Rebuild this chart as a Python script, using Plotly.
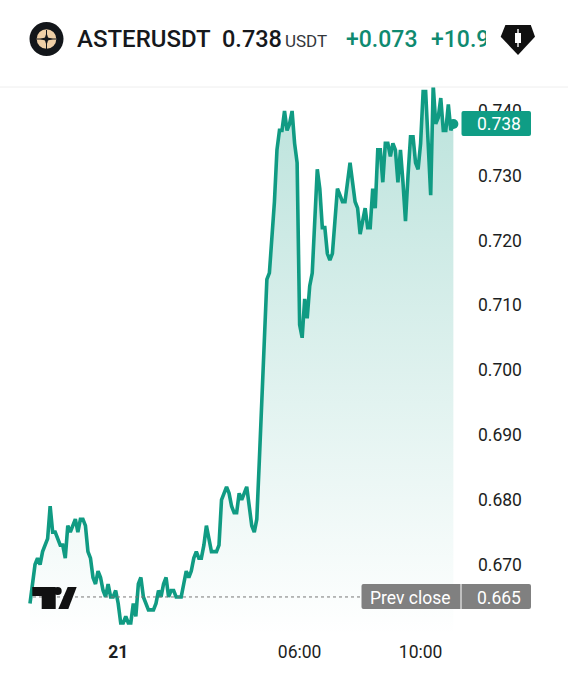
import pandas as pd
import plotly.graph_objects as go

symbol = "ASTERUSDT"
last_price = "0.738"
quote = "USDT"
change = "+0.073"
change_pct = "+10.9"
prev_close = 0.665
start_time = "2025-09-20 21:05"
bar_minutes = 5
prices = [
    0.664, 0.667, 0.670, 0.671, 0.670, 0.672, 0.673, 0.674, 0.679, 0.675,
    0.675, 0.674, 0.673, 0.673, 0.671, 0.676, 0.675, 0.676, 0.677, 0.675,
    0.677, 0.677, 0.676, 0.672, 0.671, 0.668, 0.667, 0.669, 0.668, 0.666,
    0.665, 0.667, 0.665, 0.665, 0.666, 0.664, 0.661, 0.661, 0.662, 0.661,
    0.661, 0.664, 0.662, 0.667, 0.668, 0.665, 0.664, 0.663, 0.663, 0.663,
    0.664, 0.666, 0.665, 0.667, 0.668, 0.665, 0.666, 0.666, 0.665, 0.665,
    0.665, 0.667, 0.669, 0.668, 0.669, 0.671, 0.672, 0.671, 0.671, 0.673,
    0.676, 0.674, 0.672, 0.672, 0.672, 0.673, 0.680, 0.681, 0.682, 0.681,
    0.679, 0.678, 0.678, 0.681, 0.680, 0.681, 0.682, 0.679, 0.676, 0.675,
    0.677, 0.686, 0.695, 0.705, 0.714, 0.715, 0.720, 0.726, 0.734, 0.737,
    0.737, 0.740, 0.737, 0.738, 0.740, 0.735, 0.732, 0.707, 0.705, 0.711,
    0.708, 0.713, 0.715, 0.723, 0.731, 0.728, 0.722, 0.722, 0.718, 0.717,
    0.718, 0.723, 0.728, 0.727, 0.726, 0.726, 0.729, 0.732, 0.729, 0.726,
    0.725, 0.721, 0.723, 0.725, 0.722, 0.722, 0.728, 0.725, 0.734, 0.734,
    0.729, 0.735, 0.735, 0.733, 0.735, 0.734, 0.729, 0.734, 0.729, 0.723,
    0.730, 0.736, 0.736, 0.732, 0.731, 0.735, 0.743, 0.743, 0.735, 0.727,
    0.744, 0.738, 0.739, 0.742, 0.737, 0.737, 0.741, 0.737, 0.738,
]
y_ticks = [0.670, 0.680, 0.690, 0.700, 0.710, 0.720, 0.730, 0.740]
x_tick_times = ["2025-09-21 00:00", "2025-09-21 06:00", "2025-09-21 10:00"]
x_tick_text = ["<b>21</b>", "06:00", "10:00"]

times = pd.date_range(start_time, periods=len(prices), freq=f"{bar_minutes}min")

W, H = 568, 679
L, R, T, B = 0, 470, 87, 635
GREEN = "#109b83"
FONT = "Roboto, sans-serif"


def fx(px):
    return (px - L) / (R - L)


def fy(py):
    return (B - py) / (B - T)


def poly(points, fill, close=True):
    d = "M" + " L".join(f"{fx(x):.5f},{fy(y):.5f}" for x, y in points) + (" Z" if close else "")
    return dict(type="path", xref="paper", yref="paper", path=d, fillcolor=fill,
                line=dict(width=0), layer="above")


def rrect(x0, y0, x1, y1, r, fill):
    pts = (
        f"M{fx(x0 + r):.5f},{fy(y0):.5f} L{fx(x1 - r):.5f},{fy(y0):.5f} "
        f"Q{fx(x1):.5f},{fy(y0):.5f} {fx(x1):.5f},{fy(y0 + r):.5f} "
        f"L{fx(x1):.5f},{fy(y1 - r):.5f} Q{fx(x1):.5f},{fy(y1):.5f} {fx(x1 - r):.5f},{fy(y1):.5f} "
        f"L{fx(x0 + r):.5f},{fy(y1):.5f} Q{fx(x0):.5f},{fy(y1):.5f} {fx(x0):.5f},{fy(y1 - r):.5f} "
        f"L{fx(x0):.5f},{fy(y0 + r):.5f} Q{fx(x0):.5f},{fy(y0):.5f} {fx(x0 + r):.5f},{fy(y0):.5f} Z"
    )
    return dict(type="path", xref="paper", yref="paper", path=pts, fillcolor=fill,
                line=dict(width=0), layer="above")


def circle(cx, cy, r, fill):
    return dict(type="circle", xref="paper", yref="paper", x0=fx(cx - r), x1=fx(cx + r),
                y0=fy(cy + r), y1=fy(cy - r), fillcolor=fill, line=dict(width=0), layer="above")


def seg(x0, y0, x1, y1, color, width=1):
    return dict(type="line", xref="paper", yref="paper", x0=fx(x0), x1=fx(x1), y0=fy(y0), y1=fy(y1),
                line=dict(color=color, width=width), layer="above")


def label(px, py, text, size, color, weight=400, anchor="left", **kw):
    return dict(xref="paper", yref="paper", x=fx(px), y=fy(py), text=text, showarrow=False,
                xanchor=anchor, yanchor="middle", align="left", borderpad=0, borderwidth=0,
                font=dict(family=FONT, size=size, color=color, weight=weight), **kw)


fig = go.Figure()
fig.add_trace(go.Scatter(
    x=times, y=prices, mode="lines", line=dict(color=GREEN, width=3.6, shape="linear"),
    fill="tozeroy",
    fillgradient=dict(type="vertical", start=0.745, stop=0.659,
                      colorscale=[[0, "rgba(16,155,131,0.29)"], [1, "rgba(16,155,131,0.0)"]]),
    hoverinfo="skip", showlegend=False,
))
fig.add_trace(go.Scatter(
    x=[times[-1]], y=[prices[-1]], mode="markers",
    marker=dict(color=GREEN, size=10), hoverinfo="skip", showlegend=False,
))

shapes = [
    dict(type="line", xref="paper", yref="y", x0=fx(33), x1=fx(362), y0=prev_close, y1=prev_close,
         line=dict(color="#777777", width=1, dash="dot"), layer="above"),
    # header rule
    seg(0, 87, W, 87, "#eeeeee"),
    # symbol logo
    circle(46.5, 39, 17, "#13161a"),
    circle(46.5, 39, 9.8, "#efcfa6"),
    seg(37, 39, 56, 39, "#13161a", 1),
    seg(46.5, 30, 46.5, 49, "#13161a", 1),
    poly([(46.5, 32.5), (48, 37.5), (53, 39), (48, 40.5), (46.5, 45.5), (45, 40.5), (40, 39), (45, 37.5)], "#13161a"),
    # diamond badge
    poly([(505.4, 25), (530.8, 25), (535, 36.7), (518, 55), (500.7, 36.7)], "#111111"),
    poly([(517.3, 29), (518.7, 29), (518.7, 33), (521, 33), (521, 43), (518.7, 43), (518.7, 47),
          (517.3, 47), (517.3, 43), (515, 43), (515, 33), (517.3, 33)], "#ffffff"),
    # price tags
    rrect(461.5, 111, 531, 136, 2, "#0f9d85"),
    rrect(361.5, 584, 531, 609, 2, "#808080"),
    seg(461, 584, 461, 609, "#ffffff"),
    # chart watermark
    poly([(32.3, 587), (55.7, 587), (55.7, 609), (41.7, 609), (41.7, 596), (32.3, 596)], "#111111"),
    circle(57.7, 591, 4, "#111111"),
    poly([(67.7, 587), (76.7, 587), (68.3, 609), (58.3, 609)], "#111111"),
]

annotations = [
    label(77, 39, symbol, 24, "#16181c", 500),
    label(222, 39, last_price, 23.5, "#16181c", 500),
    label(285, 41, quote, 17, "#33363b"),
    label(346, 39, change, 23, "#0f8a70", 500),
    label(431, 39, change_pct, 23, "#0f8a70", 500, width=55),
    label(477, 124, last_price, 17.5, "#ffffff"),
    label(370, 598, "Prev close", 17.5, "#ffffff"),
    label(477, 598, f"{prev_close:.3f}", 17.5, "#ffffff"),
]

fig.update_layout(
    width=W, height=H, autosize=False,
    margin=dict(l=L, r=W - R, t=T, b=H - B, pad=0),
    paper_bgcolor="#ffffff", plot_bgcolor="rgba(0,0,0,0)",
    showlegend=False, shapes=shapes, annotations=annotations,
    font=dict(family=FONT, color="#1c1e22", size=17.5),
    xaxis=dict(
        type="date",
        range=["2025-09-20 20:05:30", "2025-09-21 11:38"],
        tickmode="array", tickvals=x_tick_times, ticktext=x_tick_text,
        showgrid=False, zeroline=False, showline=False, ticks="",
        ticklabelstandoff=4, tickfont=dict(family=FONT, size=17.5),
    ),
    yaxis=dict(
        side="right",
        range=[0.65913, 0.7437],
        tickmode="array", tickvals=y_ticks, tickformat=".3f",
        showgrid=False, zeroline=False, showline=False, ticks="",
        ticklabelstandoff=7, tickfont=dict(family=FONT, size=17.5),
    ),
)

fig.write_html("out.html", config=dict(displayModeBar=False),
               post_script="document.body.style.margin='0';document.body.style.overflow='hidden';")
